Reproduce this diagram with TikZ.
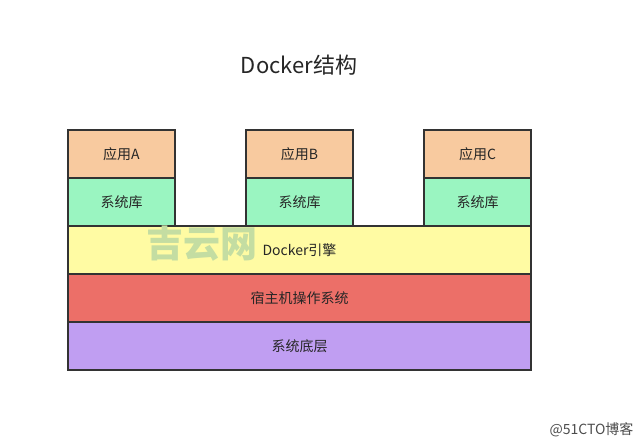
\documentclass[tikz,border=0pt]{standalone}
\usepackage{fontspec}
\setmainfont{Noto Sans CJK SC}
\usetikzlibrary{positioning}
\definecolor{appc}{HTML}{F8CA9F}
\definecolor{libc}{HTML}{9AF5C1}
\definecolor{enginec}{HTML}{FFFBA3}
\definecolor{hostc}{HTML}{EC6F68}
\definecolor{basec}{HTML}{C09EF2}
\definecolor{edgec}{HTML}{333333}
\definecolor{markc}{HTML}{C4DDA2}
\tikzset{
        block/.style = {draw=edgec, rectangle, line width=1.3pt,
            inner sep=0pt, outer sep=0pt, font=\fontsize{14}{16}\selectfont,
            text=black!85},
        small/.style = {block, minimum width=107pt, minimum height=48pt},
        wide/.style = {block, minimum width=463pt, minimum height=48pt},
    }

\begin{document}
\begin{tikzpicture}[x=1pt,y=-1pt]
                \useasboundingbox (0,0) rectangle (640,445);
                \node[font=\fontsize{22}{26}\selectfont, text=black!85] (title) at (299,65) {Docker结构};

                % applications and their libraries
                \node[small, fill=appc, anchor=north west] (appA) at (68,130) {应用A};
                \node[small, fill=libc, below=0pt of appA] (libA) {系统库};
                \node[small, fill=appc, anchor=north west] (appB) at (246,130) {应用B};
                \node[small, fill=libc, below=0pt of appB] (libB) {系统库};
                \node[small, fill=appc, anchor=north west] (appC) at (424,130) {应用C};
                \node[small, fill=libc, below=0pt of appC] (libC) {系统库};

                % shared layers
                \node[wide, fill=enginec, anchor=north west] (engine) at (68,226) {Docker引擎};
                \node[wide, fill=hostc, below=0pt of engine] (host) {宿主机操作系统};
                \node[wide, fill=basec, below=0pt of host] (base) {系统底层};

                % watermarks
                \node[font=\fontsize{37}{40}\selectfont\bfseries, text=markc, anchor=west] (mark) at (143,244) {吉云网};
                \node[font=\fontsize{14}{16}\selectfont, text=black!70, anchor=east] (credit) at (637,430) {@51CTO博客};
            \end{tikzpicture}
\end{document}
